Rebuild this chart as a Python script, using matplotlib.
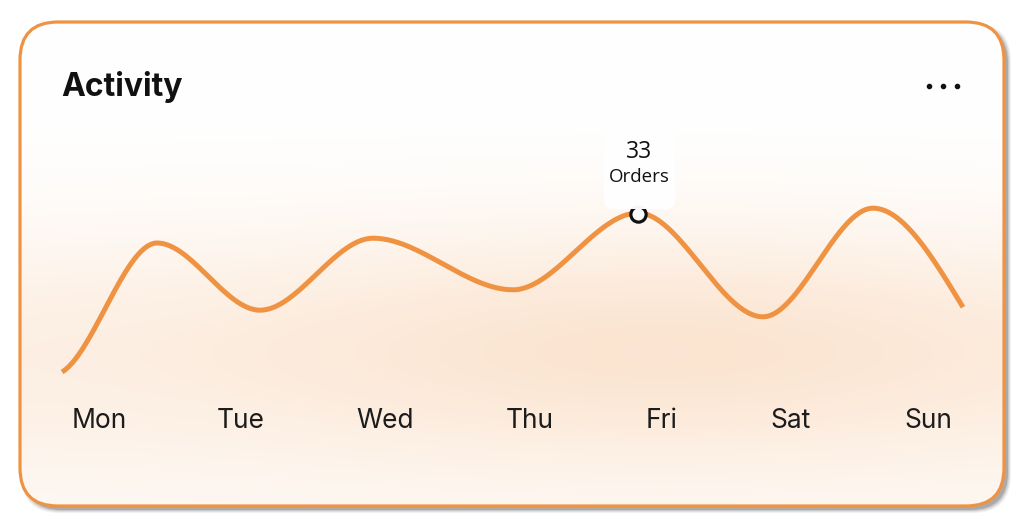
import numpy as np
import matplotlib
matplotlib.use("Agg")
import matplotlib.pyplot as plt
from matplotlib.patches import FancyBboxPatch

# knots of the activity line (x in day units, Mon = 0) and order counts
knot_x = [-0.26, 0.427, 1.171, 1.988, 3.0, 3.904, 4.807, 5.603, 6.253]
orders = [6.5, 28, 16.8, 28.8, 20.2, 33, 15.7, 33.8, 17.3]
days = ["Mon", "Tue", "Wed", "Thu", "Fri", "Sat", "Sun"]
day_pos = [0.007, 1.034, 2.075, 3.123, 4.077, 5.01, 6.0]
highlight = 5  # index of the knot with the tooltip
title = "Activity"
tip_unit = "Orders"

ORANGE = "#EF9343"
TEXT = "#1c1c1c"
W, H = 1024, 528


def monotone_x(xs, ys, n=60, start_k=0.45):
    # monotone cubic, flat at every turning point
    xs = np.asarray(xs, float)
    ys = np.asarray(ys, float)
    h = np.diff(xs)
    s = np.diff(ys) / h
    t = np.zeros(len(xs))
    for i in range(1, len(xs) - 1):
        p = (s[i - 1] * h[i] + s[i] * h[i - 1]) / (h[i - 1] + h[i])
        t[i] = (np.sign(s[i - 1]) + np.sign(s[i])) * min(abs(s[i - 1]), abs(s[i]), 0.5 * abs(p))
    t[0] = start_k * s[0]
    t[-1] = (3 * s[-1] - t[-2]) / 2
    out_x, out_y = [], []
    for i in range(len(xs) - 1):
        u = np.linspace(0, 1, n)
        h00 = 2 * u**3 - 3 * u**2 + 1
        h10 = u**3 - 2 * u**2 + u
        h01 = -2 * u**3 + 3 * u**2
        h11 = u**3 - u**2
        out_x.append(xs[i] + u * h[i])
        out_y.append(h00 * ys[i] + h10 * h[i] * t[i] + h01 * ys[i + 1] + h11 * h[i] * t[i + 1])
    return np.concatenate(out_x), np.concatenate(out_y)


fig = plt.figure(figsize=(W / 100, H / 100), dpi=100)
fig.patch.set_facecolor("white")

# card layer in pixel coordinates
bg = fig.add_axes([0, 0, 1, 1])
bg.set_xlim(0, W)
bg.set_ylim(H, 0)
bg.axis("off")

cx, cy, cw, ch, rad = 20, 22, 984, 484, 38
for k, a in enumerate([0.08, 0.12, 0.18, 0.28]):
    grow = 3 - k
    sh = FancyBboxPatch((cx + 4 - grow, cy + 4 - grow), cw + 2 * grow, ch + 2 * grow,
                        boxstyle=f"round,pad=0,rounding_size={rad}",
                        fc="#5e5e5e", ec="none", alpha=a, zorder=1)
    bg.add_patch(sh)

card = FancyBboxPatch((cx, cy), cw, ch, boxstyle=f"round,pad=0,rounding_size={rad}",
                      fc="white", ec="none", zorder=2)
bg.add_patch(card)

# peach glow behind the line
gy, gx = np.mgrid[cy:cy + ch, cx:cx + cw]
hx = 0.5 + 0.5 * np.exp(-((gx - 660) / 380.0) ** 2)
glow = 0.75 * np.exp(-((gy - 345) / 115.0) ** 2) * hx
glow += 0.2 * np.clip((gy - 120) / 300.0, 0, 1)
glow = np.clip(glow, 0, 1)
peach = np.array([251, 226, 204]) / 255.0
img = 1 - glow[..., None] * (1 - peach)
im = bg.imshow(img, extent=(cx, cx + cw, cy + ch, cy), zorder=3, interpolation="bilinear")
im.set_clip_path(card)

border = FancyBboxPatch((cx, cy), cw, ch, boxstyle=f"round,pad=0,rounding_size={rad}",
                        fc="none", ec=ORANGE, lw=2.3, zorder=4)
bg.add_patch(border)

bg.text(61, 87, title, fontsize=23, fontweight="bold", family=["Inter", "DejaVu Sans"],
        color="#111111", va="center", ha="left", zorder=5)
bg.scatter([929, 943, 957], [86, 86, 86], s=9, color="#111111", zorder=5)

# data layer
ax = fig.add_axes([0, 0, 1, 1])
ax.patch.set_alpha(0)
ax.set_xlim(-0.7085, 6.694)
ax.set_ylim(-19.5, 68.5)
ax.axis("off")

lx, ly = monotone_x(knot_x, orders)
ax.plot(lx, ly, color=ORANGE, lw=3.6, solid_capstyle="butt", zorder=6)

for d, p in zip(days, day_pos):
    ax.text(p, 1 - 421 / H, d, transform=ax.get_xaxis_transform(), fontsize=19,
            family=["Inter", "DejaVu Sans"], color=TEXT, ha="center", va="center", zorder=7)

hx_, hy_ = knot_x[highlight], orders[highlight]
ax.plot(hx_, hy_ - 0.15, "o", ms=11, mfc="white", mec="#111111", mew=2.3, zorder=8)

# tooltip box above the highlighted point
fig.canvas.draw()
px, py = ax.transData.transform((hx_, hy_))
py = H - py

tip_ax = fig.add_axes([0, 0, 1, 1])
tip_ax.set_xlim(0, W)
tip_ax.set_ylim(H, 0)
tip_ax.axis("off")
tip_ax.add_patch(FancyBboxPatch((px - 34, py - 86), 71, 82, boxstyle="round,pad=0,rounding_size=9",
                                fc="white", ec="none", alpha=0.97))
tip_ax.text(px + 1, py - 61, str(int(orders[highlight])), fontsize=16.5,
            family=["Open Sans", "DejaVu Sans"], color="#111111", ha="center", va="center")
tip_ax.text(px + 1, py - 36, tip_unit, fontsize=13.5,
            family=["Open Sans", "DejaVu Sans"], color="#111111", ha="center", va="center")

fig.savefig("out.png", dpi=100, facecolor="white")
